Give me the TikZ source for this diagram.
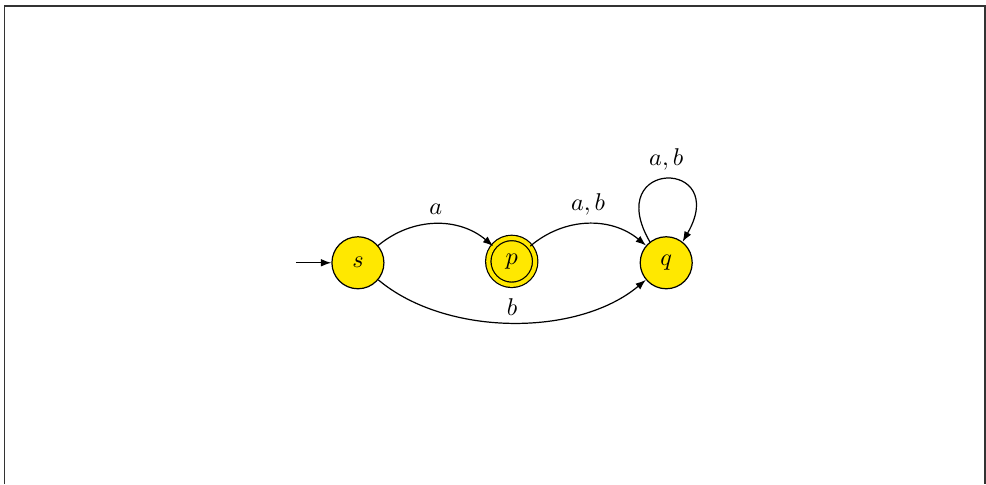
\documentclass[tikz,border=0pt]{standalone}
\usepackage{amsmath}
\usepackage{tikz}
\usetikzlibrary{positioning,arrows.meta,calc}
\definecolor{statefill}{HTML}{FFE800}
\definecolor{frameline}{HTML}{333333}

\begin{document}
\begin{tikzpicture}[
  stt/.style={draw, circle, fill=statefill, minimum size=0.754cm, inner sep=0pt, line width=0.5pt},
  acc/.style={stt, minimum size=0.68cm, double=statefill, double distance=0.06cm},
  arr/.style={-{Latex[length=1.5mm, width=1.1mm]}, line width=0.5pt},
  lbl/.style={inner sep=3.5pt}
]
  \useasboundingbox (0,0) rectangle (14.297,-7.018);
  % Rahmen
  \draw[frameline, line width=0.6pt] (0.065,-7.018) -- (0.065,-0.087) -- (14.28,-0.087) -- (14.28,-7.018);
  % Zustaende
  \node[stt] (s) at (5.19,-3.81) {$s$};
  \node[acc] (p) at (7.42,-3.79) {$p$};
  \node[stt] (q) at (9.66,-3.81) {$q$};
  \coordinate (init) at (4.29,-3.81);
  % Uebergaenge
  \draw[arr] (init) -- (s);
  \draw[arr] (s) to[bend left=40] node[lbl, above]{$a$} (p);
  \draw[arr] (p) to[bend left=40] node[lbl, above]{$a,b$} (q);
  \draw[arr] (s) to[out=-40, in=-140, looseness=0.85] node[lbl, above, inner sep=2.5pt]{$b$} (q);
  \draw[arr] (q.128) .. controls +(120:1.4cm) and +(60:1.4cm) .. node[lbl, above]{$a,b$} (q.52);
\end{tikzpicture}
\end{document}
